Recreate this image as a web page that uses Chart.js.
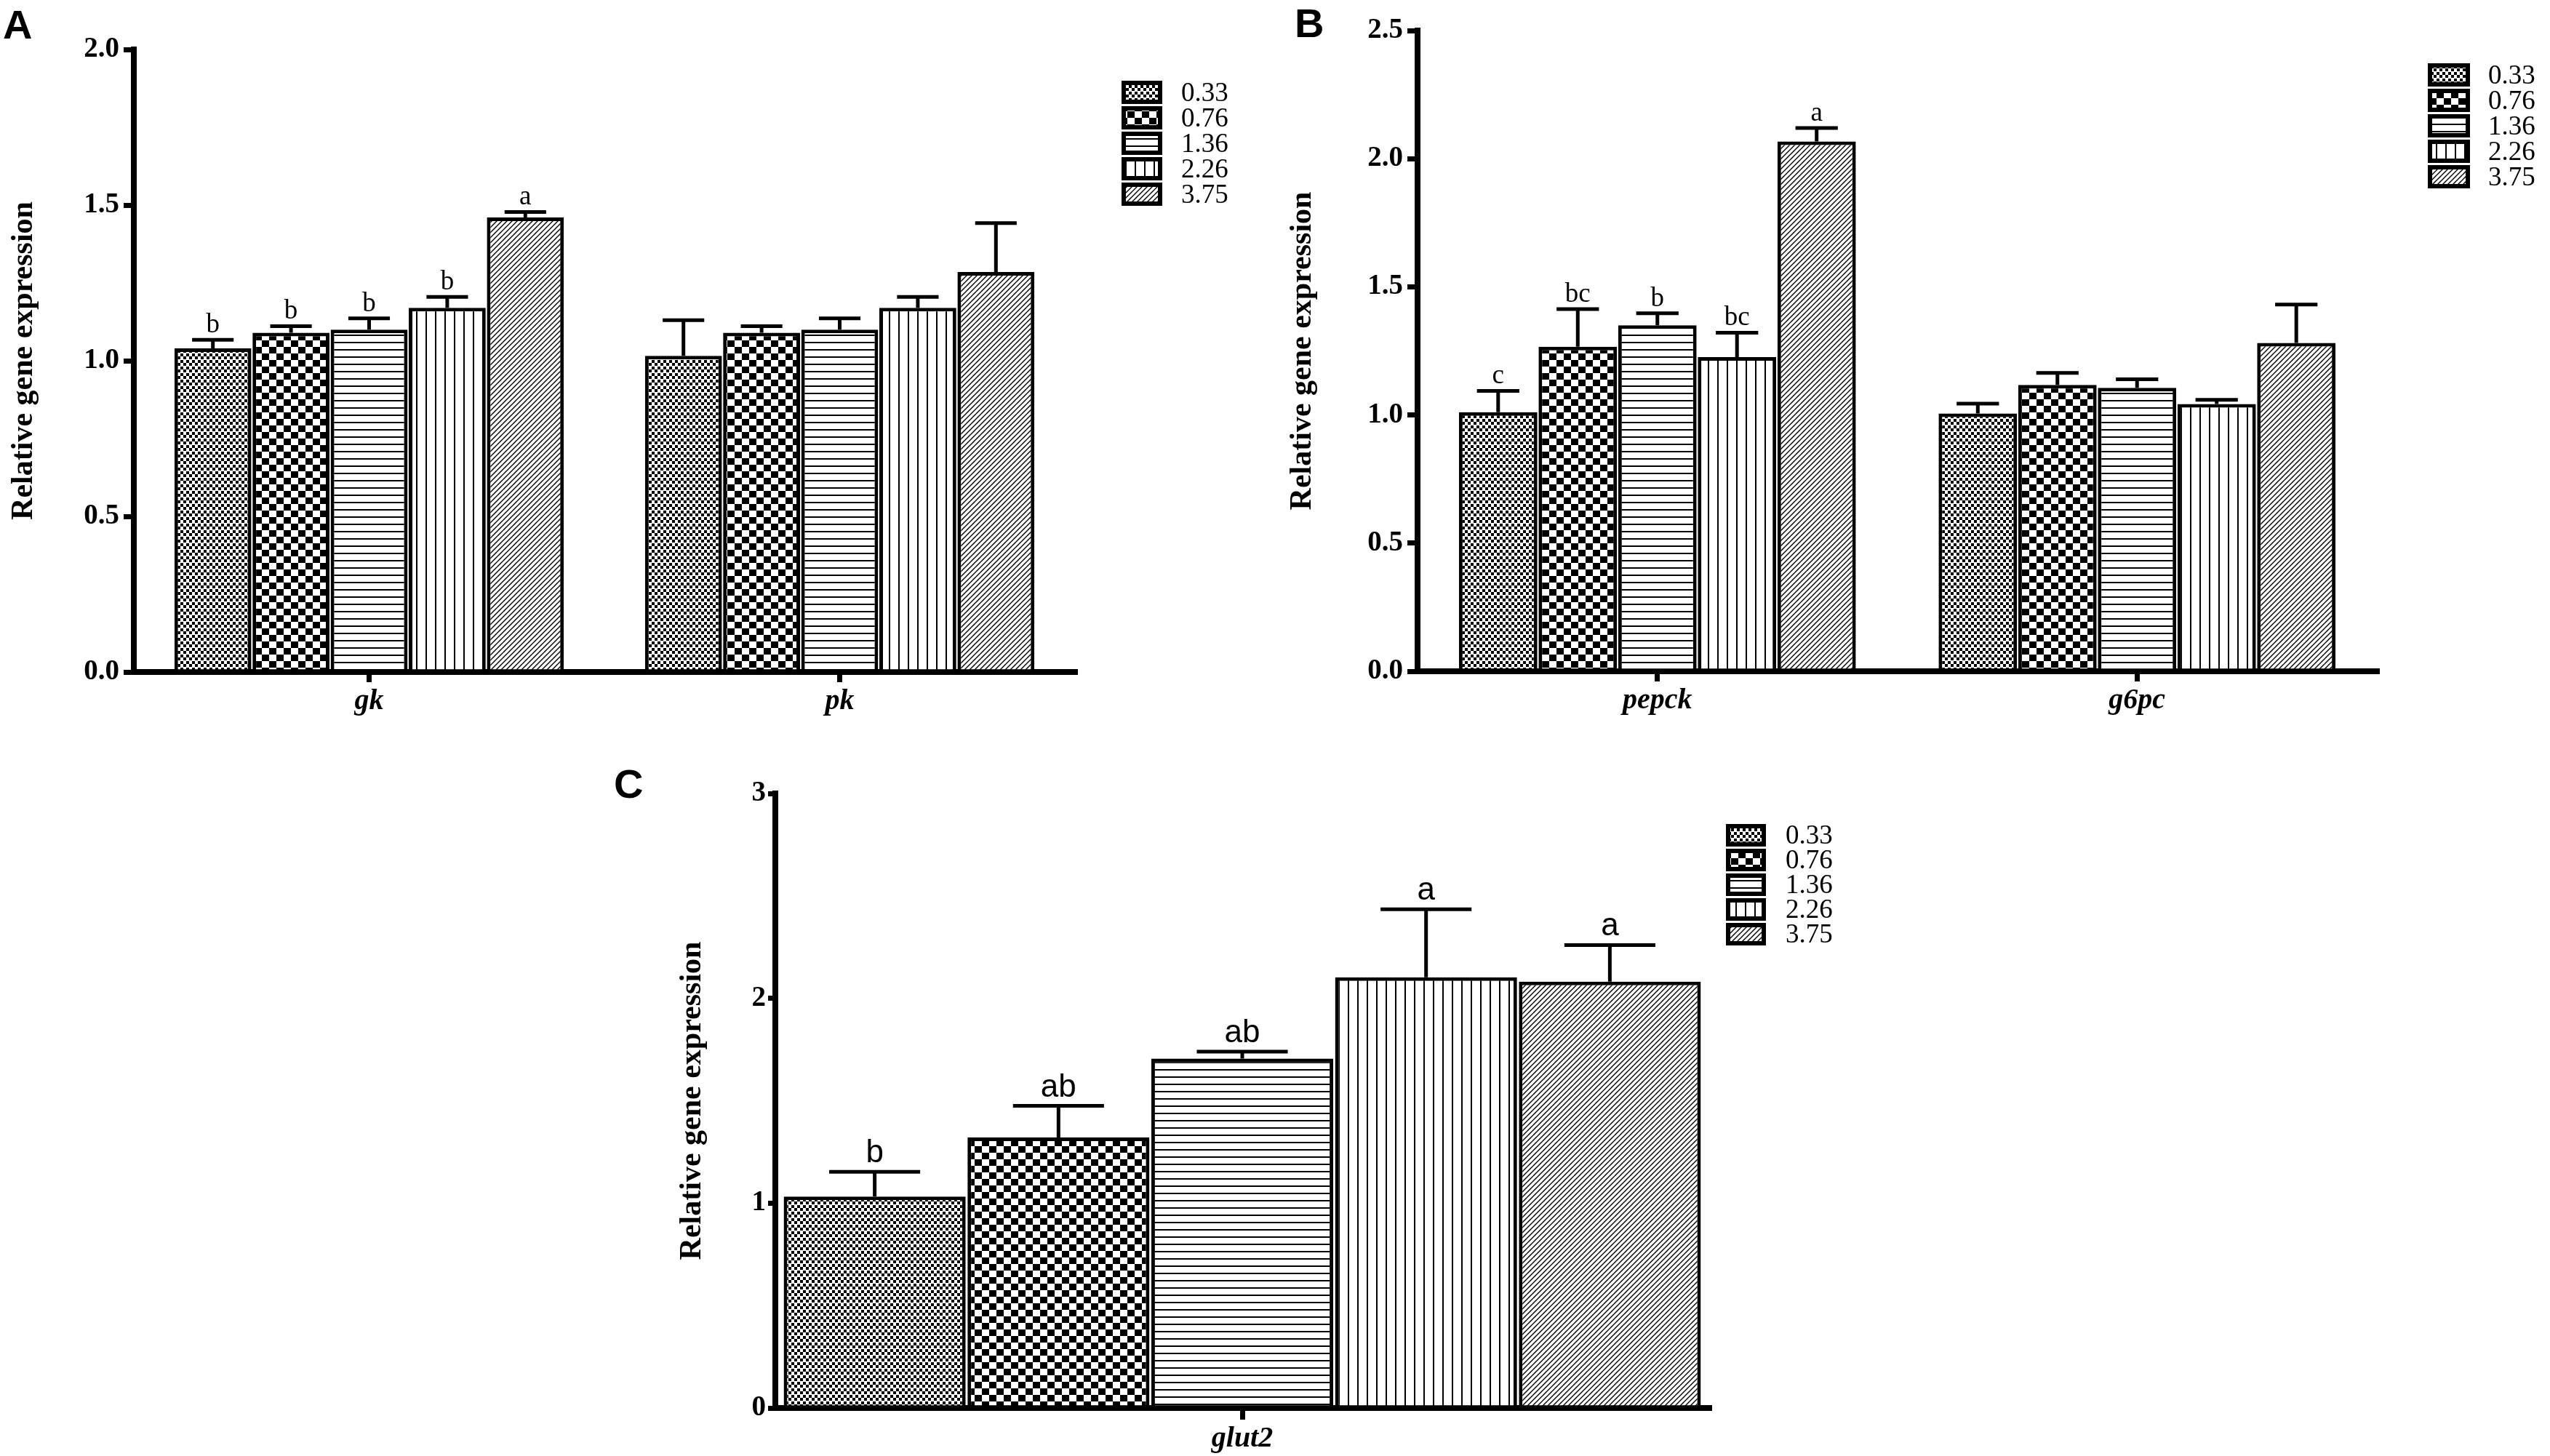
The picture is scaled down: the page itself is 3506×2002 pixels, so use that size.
<!DOCTYPE html>
<html>
<head>
<meta charset="utf-8">
<script src="https://cdn.jsdelivr.net/npm/chart.js@4.4.1/dist/chart.umd.min.js"></script>
<style>
  html, body { margin: 0; padding: 0; background: #fff; }
  #page { position: relative; width: 3506px; height: 2002px; background: #fff; }
  canvas { position: absolute; }
</style>
</head>
<body>
<div id="page">
  <canvas id="panelA" width="1750" height="1000" style="left:0px;top:0px;"></canvas>
  <canvas id="panelB" width="1756" height="1000" style="left:1750px;top:0px;"></canvas>
  <canvas id="panelC" width="1800" height="1002" style="left:800px;top:1000px;"></canvas>
</div>
<script>
// ---- data ----
const doseLevels = ['0.33', '0.76', '1.36', '2.26', '3.75'];

// A: glycolysis genes
const genesA = ['gk', 'pk'];
const gkMean = [1.04, 1.09, 1.10, 1.17, 1.46];
const gkSD = [0.027, 0.021, 0.036, 0.035, 0.018];
const gkLetters = ['b', 'b', 'b', 'b', 'a'];
const pkMean = [1.016, 1.09, 1.10, 1.17, 1.285];
const pkSD = [0.114, 0.021, 0.036, 0.035, 0.157];
const pkLetters = ['', '', '', '', ''];
const ticksA = [0, 0.5, 1.0, 1.5, 2.0];

// B: gluconeogenesis genes
const genesB = ['pepck', 'g6pc'];
const pepckMean = [1.011, 1.266, 1.35, 1.226, 2.067];
const pepckSD = [0.083, 0.147, 0.047, 0.095, 0.053];
const pepckLetters = ['c', 'bc', 'b', 'bc', 'a'];
const g6pcMean = [1.006, 1.117, 1.106, 1.043, 1.281];
const g6pcSD = [0.038, 0.047, 0.033, 0.016, 0.15];
const g6pcLetters = ['', '', '', '', ''];
const ticksB = [0, 0.5, 1.0, 1.5, 2.0, 2.5];

// C: glucose transporter
const genesC = ['glut2'];
const glut2Mean = [1.032, 1.321, 1.706, 2.103, 2.081];
const glut2SD = [0.121, 0.154, 0.034, 0.332, 0.179];
const glut2Letters = ['b', 'ab', 'ab', 'a', 'a'];
const ticksC = [0, 1, 2, 3];

const yTitle = 'Relative gene expression';

// ---- fill patterns (one per dose) ----
function makePattern(kind) {
    const c = document.createElement('canvas');
    const g = c.getContext('2d');
    let w = 10, h = 10;
    if (kind === 'fine') { w = 8; h = 9; }
    if (kind === 'check') { w = 20; h = 18; }
    if (kind === 'hline') { w = 10; h = 10; }
    if (kind === 'vline') { w = 13; h = 10; }
    if (kind === 'diag') { w = 7; h = 7; }
    c.width = w; c.height = h;
    g.fillStyle = '#fff';
    g.fillRect(0, 0, w, h);
    g.fillStyle = '#000';
    g.strokeStyle = '#000';
    if (kind === 'fine') {
        // small checks with a thin white row, like the scanned dotted fill
        g.fillRect(0, 0, 4, 4);
        g.fillRect(4, 4, 4, 4);
    } else if (kind === 'check') {
        g.fillRect(0, 0, 10, 9);
        g.fillRect(10, 9, 10, 9);
    } else if (kind === 'hline') {
        g.fillRect(0, 0, w, 2);
    } else if (kind === 'vline') {
        g.fillRect(0, 0, 2, h);
    } else if (kind === 'diag') {
        g.lineWidth = 1.4;
        g.beginPath();
        g.moveTo(0, h); g.lineTo(w, 0);
        g.moveTo(-1, 1); g.lineTo(1, -1);
        g.moveTo(w - 1, h + 1); g.lineTo(w + 1, h - 1);
        g.stroke();
    }
    return g.createPattern(c, 'repeat');
}
const doseFills = ['fine', 'check', 'hline', 'vline', 'diag'].map(makePattern);

// ---- plugins ----
// upward error bars + significance letters
const errorBars = {
    id: 'errorBars',
    afterDatasetsDraw(chart, args, opts) {
        const ctx = chart.ctx;
        const yScale = chart.scales.y;
        ctx.save();
        ctx.strokeStyle = '#000';
        ctx.lineWidth = opts.lineWidth;
        ctx.fillStyle = '#000';
        ctx.font = opts.font;
        ctx.textAlign = 'center';
        ctx.textBaseline = 'alphabetic';
        chart.data.datasets.forEach((ds, i) => {
            const meta = chart.getDatasetMeta(i);
            meta.data.forEach((bar, j) => {
                const top = yScale.getPixelForValue(ds.data[j] + ds.sd[j]);
                const half = bar.width * opts.capRatio / 2;
                ctx.beginPath();
                ctx.moveTo(bar.x, bar.y);
                ctx.lineTo(bar.x, top);
                ctx.moveTo(bar.x - half, top);
                ctx.lineTo(bar.x + half, top);
                ctx.stroke();
                const letter = ds.letters[j];
                if (letter) ctx.fillText(letter, bar.x, top - opts.letterGap);
            });
        });
        ctx.restore();
    }
};

// legend with patterned boxes, placed where the figure has it
const doseLegend = {
    id: 'doseLegend',
    afterDraw(chart, args, opts) {
        const ctx = chart.ctx;
        ctx.save();
        chart.data.datasets.forEach((ds, i) => {
            const y = opts.y + i * opts.pitch;
            ctx.fillStyle = ds.backgroundColor;
            ctx.fillRect(opts.x, y, opts.boxW, opts.boxH);
            ctx.lineWidth = opts.border;
            ctx.strokeStyle = '#000';
            ctx.strokeRect(opts.x + opts.border / 2, y + opts.border / 2,
                opts.boxW - opts.border, opts.boxH - opts.border);
            ctx.fillStyle = '#000';
            ctx.font = opts.font;
            ctx.textAlign = 'left';
            ctx.textBaseline = 'middle';
            ctx.fillText(ds.label, opts.textX, y + opts.boxH / 2 + 2);
        });
        ctx.restore();
    }
};

// panel letter (A, B, C)
const panelTag = {
    id: 'panelTag',
    afterDraw(chart, args, opts) {
        const ctx = chart.ctx;
        ctx.save();
        ctx.fillStyle = '#000';
        ctx.font = 'bold 56px "Liberation Sans", Arial, sans-serif';
        ctx.textAlign = 'left';
        ctx.textBaseline = 'top';
        ctx.fillText(opts.text, opts.x, opts.y);
        ctx.restore();
    }
};

Chart.defaults.color = '#000';
Chart.defaults.font.family = '"Liberation Serif", "Times New Roman", serif';

function buildPanel(id, p) {
    const datasets = doseLevels.map((dose, i) => ({
        label: dose,
        data: p.means.map(m => m[i]),
        sd: p.sds.map(s => s[i]),
        letters: p.letters.map(l => l[i]),
        backgroundColor: doseFills[i],
        borderColor: '#000',
        borderWidth: 5,
        categoryPercentage: p.catPct,
        barPercentage: p.barPct
    }));

    return new Chart(document.getElementById(id), {
        type: 'bar',
        data: { labels: p.genes, datasets: datasets },
        options: {
            responsive: false,
            animation: false,
            layout: { padding: p.padding },
            plugins: {
                legend: { display: false },
                tooltip: { enabled: false },
                errorBars: p.err,
                doseLegend: p.legend,
                panelTag: p.tag
            },
            scales: {
                x: {
                    grid: { drawOnChartArea: false, offset: false, tickLength: p.xTick, lineWidth: 7, color: '#000' },
                    border: { display: true, width: 8, color: '#000' },
                    ticks: { padding: 3, font: { size: 40, weight: 'bold', style: 'italic' } },
                    afterFit: s => { s.height = p.xHeight; }
                },
                y: {
                    min: 0,
                    max: p.ticks[p.ticks.length - 1],
                    afterBuildTicks: s => { s.ticks = p.ticks.map(v => ({ value: v })); },
                    grid: { drawOnChartArea: false, tickLength: p.yTick, lineWidth: 7, color: '#000' },
                    border: { display: true, width: 8, color: '#000' },
                    ticks: {
                        padding: p.yPad,
                        font: { size: 39, weight: 'bold' },
                        callback: v => v.toFixed(p.decimals)
                    },
                    title: {
                        display: true,
                        text: yTitle,
                        padding: { top: 0, bottom: 0 },
                        font: { size: 42, weight: 'bold' }
                    },
                    afterFit: s => { s.width = p.yWidth; }
                }
            }
        },
        plugins: [errorBars, doseLegend, panelTag]
    });
}

const serifLetters = '37px "Liberation Serif", "Times New Roman", serif';
const sansLetters = '44px "Liberation Sans", Arial, sans-serif';
const legendFont = '37px "Liberation Serif", "Times New Roman", serif';

buildPanel('panelA', {
    genes: genesA,
    means: [gkMean, pkMean],
    sds: [gkSD, pkSD],
    letters: [gkLetters, pkLetters],
    ticks: ticksA, decimals: 1,
    padding: { left: 8, top: 68, right: 272, bottom: 0 },
    yWidth: 176, xHeight: 76, yTick: 14, yPad: 6, xTick: 14,
    catPct: 0.83, barPct: 0.985,
    err: { lineWidth: 5, capRatio: 0.54, font: serifLetters, letterGap: 10 },
    legend: { x: 1542, y: 111, pitch: 35, boxW: 56, boxH: 32, border: 6, textX: 1624, font: legendFont },
    tag: { text: 'A', x: 4, y: 10 }
});

buildPanel('panelB', {
    genes: genesB,
    means: [pepckMean, g6pcMean],
    sds: [pepckSD, g6pcSD],
    letters: [pepckLetters, g6pcLetters],
    ticks: ticksB, decimals: 1,
    padding: { left: 16, top: 42, right: 238, bottom: 0 },
    yWidth: 183, xHeight: 77, yTick: 14, yPad: 6, xTick: 14,
    catPct: 0.83, barPct: 0.985,
    err: { lineWidth: 5, capRatio: 0.54, font: serifLetters, letterGap: 10 },
    legend: { x: 1588, y: 87, pitch: 35, boxW: 58, boxH: 32, border: 6, textX: 1671, font: legendFont },
    tag: { text: 'B', x: 30, y: 8 }
});

buildPanel('panelC', {
    genes: genesC,
    means: [glut2Mean],
    sds: [glut2SD],
    letters: [glut2Letters],
    ticks: ticksC, decimals: 0,
    padding: { left: 127, top: 91, right: 250, bottom: 0 },
    yWidth: 139, xHeight: 66, yTick: 10, yPad: 3, xTick: 16,
    catPct: 0.984, barPct: 0.99,
    err: { lineWidth: 5, capRatio: 0.5, font: sansLetters, letterGap: 13 },
    legend: { x: 1573, y: 133, pitch: 34, boxW: 55, boxH: 31, border: 6, textX: 1655, font: legendFont },
    tag: { text: 'C', x: 44, y: 54 }
});
</script>
</body>
</html>
